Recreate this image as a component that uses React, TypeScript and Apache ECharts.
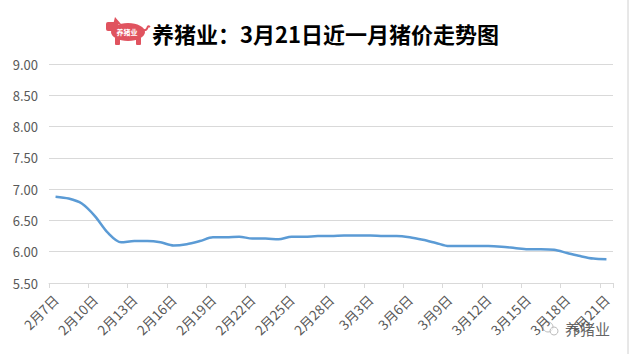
import React, { useEffect, useRef } from "react";
import * as echarts from "echarts";

const categories: string[] = [
  "2月7日", "2月8日", "2月9日", "2月10日", "2月11日", "2月12日", "2月13日", "2月14日",
  "2月15日", "2月16日", "2月17日", "2月18日", "2月19日", "2月20日", "2月21日", "2月22日",
  "2月23日", "2月24日", "2月25日", "2月26日", "2月27日", "2月28日",
  "3月1日", "3月2日", "3月3日", "3月4日", "3月5日", "3月6日", "3月7日", "3月8日",
  "3月9日", "3月10日", "3月11日", "3月12日", "3月13日", "3月14日", "3月15日", "3月16日",
  "3月17日", "3月18日", "3月19日", "3月20日", "3月21日",
];

const prices: number[] = [
  6.88, 6.85, 6.77, 6.57, 6.30, 6.15, 6.17, 6.17,
  6.15, 6.10, 6.12, 6.17, 6.23, 6.23, 6.24, 6.21,
  6.21, 6.20, 6.24, 6.24, 6.25, 6.25,
  6.26, 6.26, 6.26, 6.25, 6.25, 6.23, 6.19, 6.14,
  6.09, 6.09, 6.09, 6.09, 6.08, 6.06, 6.04, 6.04,
  6.03, 5.98, 5.93, 5.89, 5.88,
];

const titleText = "养猪业：3月21日近一月猪价走势图";
const watermarkText = "养猪业";
const logoText = "养猪业";
const yMin = 5.5;
const yMax = 9.0;
const yStep = 0.5;

export default function App() {
  const ref = useRef<HTMLDivElement>(null);

  useEffect(() => {
    if (!ref.current) return;
    const chart = echarts.init(ref.current, undefined, { renderer: "svg" });
    const pig = "#E0535F";
    const font = "'Microsoft YaHei', 'Noto Sans CJK SC', sans-serif";
    chart.setOption({
      animation: false,
      backgroundColor: "#ffffff",
      grid: { left: 49, right: 16, top: 64, bottom: 71, containLabel: false },
      xAxis: {
        type: "category",
        data: categories,
        boundaryGap: true,
        axisLine: { show: true, lineStyle: { color: "#D9D9D9", width: 1 } },
        axisTick: { show: true, interval: 2, length: 5, lineStyle: { color: "#D9D9D9" } },
        axisLabel: {
          interval: 2,
          rotate: 45,
          margin: 14,
          color: "#595959",
          fontSize: 13.5,
          fontFamily: font,
        },
        splitLine: { show: false },
      },
      yAxis: {
        type: "value",
        min: yMin,
        max: yMax,
        interval: yStep,
        axisLine: { show: false },
        axisTick: { show: false },
        axisLabel: {
          color: "#595959",
          fontSize: 13,
          margin: 11,
          fontFamily: font,
          formatter: (v: number) => v.toFixed(2),
        },
        splitLine: { show: true, lineStyle: { color: "#D9D9D9", width: 1 } },
      },
      series: [
        {
          type: "line",
          data: prices,
          smooth: 0.3,
          showSymbol: false,
          lineStyle: { color: "#5B9BD5", width: 2.5 },
          itemStyle: { color: "#5B9BD5" },
        },
      ],
      graphic: [
        {
          type: "line",
          shape: { x1: 628, y1: 0, x2: 628, y2: 354 },
          style: { stroke: "#D0D0D0", lineWidth: 1 },
        },
        {
          type: "group",
          children: [
            { type: "ellipse", shape: { cx: 128, cy: 32, rx: 17, ry: 9 }, style: { fill: pig } },
            { type: "rect", shape: { x: 106, y: 22, width: 12, height: 9, r: 2 }, style: { fill: pig } },
            { type: "polygon", shape: { points: [[113, 25], [115, 17], [121, 24]] }, style: { fill: pig } },
            { type: "rect", shape: { x: 115, y: 37, width: 5, height: 8, r: 1 }, style: { fill: pig } },
            { type: "rect", shape: { x: 136, y: 37, width: 5, height: 8, r: 1 }, style: { fill: pig } },
            {
              type: "bezierCurve",
              shape: { x1: 144, y1: 30, x2: 150, y2: 27, cpx1: 149, cpy1: 31, cpx2: 146, cpy2: 24 },
              style: { stroke: pig, lineWidth: 2, fill: "none" },
            },
            {
              type: "text",
              x: 127,
              y: 32,
              style: {
                text: logoText,
                fill: "#ffffff",
                fontSize: 7,
                fontWeight: "bold",
                fontFamily: font,
                align: "center",
                verticalAlign: "middle",
              },
            },
          ],
        },
        {
          type: "text",
          x: 152,
          y: 33,
          style: {
            text: titleText,
            fill: "#000000",
            fontSize: 22,
            fontWeight: "bold",
            fontFamily: font,
            align: "left",
            verticalAlign: "middle",
          },
        },
        {
          type: "group",
          children: [
            { type: "circle", shape: { cx: 548, cy: 327, r: 5 }, style: { fill: "rgba(255,255,255,0.6)", stroke: "#BBBBBB", lineWidth: 1 } },
            { type: "circle", shape: { cx: 554, cy: 331, r: 4 }, style: { fill: "rgba(255,255,255,0.6)", stroke: "#BBBBBB", lineWidth: 1 } },
            {
              type: "text",
              x: 565,
              y: 328,
              style: {
                text: watermarkText,
                fill: "#666666",
                fontSize: 15,
                fontFamily: font,
                align: "left",
                verticalAlign: "middle",
                stroke: "rgba(255,255,255,0.8)",
                lineWidth: 2,
              },
            },
          ],
        },
      ],
    });
    return () => chart.dispose();
  }, []);

  return (
    <div
      ref={ref}
      style={{ position: "fixed", left: 0, top: 0, width: 629, height: 354, background: "#fff" }}
    />
  );
}
